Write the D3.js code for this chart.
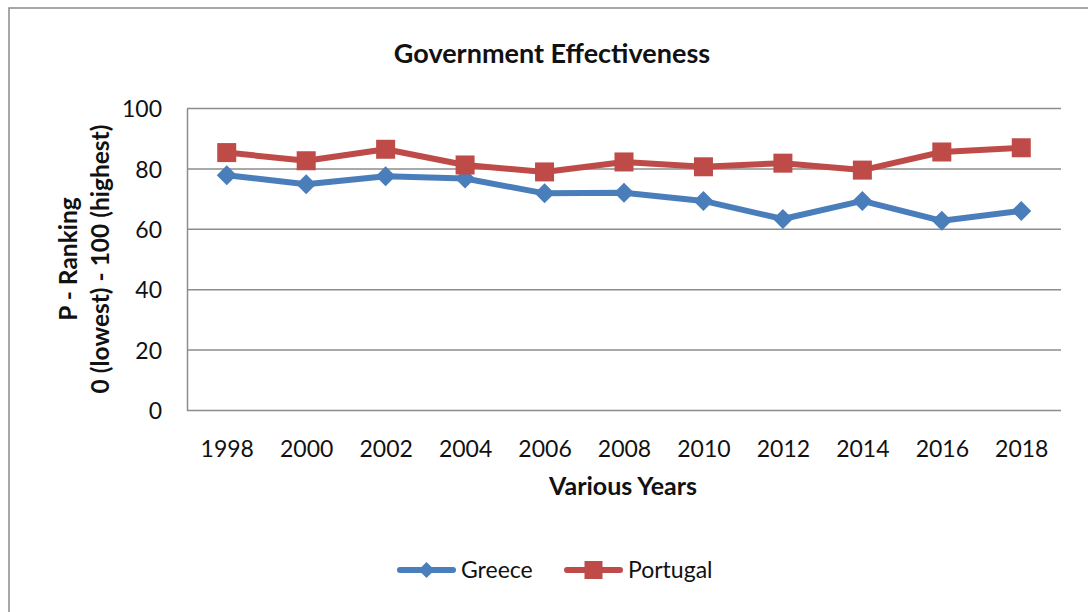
<!DOCTYPE html>
<html>
<head>
<meta charset="utf-8">
<script src="https://cdn.jsdelivr.net/npm/d3@7"></script>
<style>
  html, body { margin: 0; padding: 0; background: #fff; }
  svg { display: block; }
  text { font-family: Lato, "Liberation Sans", sans-serif; fill: #111; }
</style>
</head>
<body>
<svg id="chart" width="1088" height="612"></svg>
<script>
// Government Effectiveness percentile rank, 1998-2018
const years = ["1998", "2000", "2002", "2004", "2006", "2008", "2010", "2012", "2014", "2016", "2018"];
const greece = [77.9, 74.9, 77.6, 76.8, 71.9, 72.1, 69.4, 63.4, 69.4, 62.8, 66.1];
const portugal = [85.4, 82.7, 86.5, 81.3, 79.0, 82.3, 80.7, 81.9, 79.6, 85.6, 87.0];
const yTicks = [0, 20, 40, 60, 80, 100];
const seriesNames = ["Greece", "Portugal"];

const svg = d3.select("#chart");
const W = 1088, H = 612;
const plot = { left: 187, top: 108.5, right: 1061, bottom: 410.5 };

// outer chart frame (extends past the right and bottom edges)
svg.append("rect")
  .attr("x", 9).attr("y", 8)
  .attr("width", W + 20).attr("height", H + 20)
  .attr("fill", "none").attr("stroke", "#8a8a8a").attr("stroke-width", 1.5);

const x = d3.scalePoint().domain(years).range([plot.left, plot.right]).padding(0.5);
const y = d3.scaleLinear().domain([0, 100]).range([plot.bottom, plot.top]);

// horizontal gridlines
svg.append("g")
  .selectAll("line")
  .data(yTicks)
  .join("line")
  .attr("x1", plot.left).attr("x2", plot.right)
  .attr("y1", d => y(d)).attr("y2", d => y(d))
  .attr("stroke", "#8c8c8c").attr("stroke-width", 1.5);

// y axis
const yAxis = svg.append("g")
  .attr("transform", `translate(${plot.left},0)`)
  .call(d3.axisLeft(y).tickValues(yTicks).tickSize(0).tickPadding(25));
yAxis.select(".domain").attr("stroke", "#8c8c8c").attr("stroke-width", 1.5);
yAxis.selectAll("text").style("font-size", "23px").attr("dy", "0.36em").attr("fill", "#111");

// x axis (labels only)
const xAxis = svg.append("g")
  .attr("transform", `translate(0,${plot.bottom})`)
  .call(d3.axisBottom(x).tickSize(0));
xAxis.select(".domain").remove();
xAxis.selectAll("text")
  .style("font-size", "23px").attr("fill", "#111")
  .attr("y", 46).attr("dy", 0);

// titles
svg.append("text")
  .attr("x", 552).attr("y", 63)
  .attr("text-anchor", "middle")
  .style("font-size", "27px").style("font-weight", "bold")
  .text("Government Effectiveness");

svg.append("text")
  .attr("x", 623).attr("y", 495)
  .attr("text-anchor", "middle")
  .style("font-size", "25px").style("font-weight", "bold")
  .text("Various Years");

const yTitle = svg.append("text")
  .attr("transform", "translate(77,259) rotate(-90)")
  .attr("text-anchor", "middle")
  .style("font-size", "24.5px").style("font-weight", "bold");
yTitle.append("tspan").attr("x", 0).attr("dy", 0).text("P - Ranking");
yTitle.append("tspan").attr("x", 0).attr("dy", 32).text("0 (lowest) - 100 (highest)");

const colors = { Greece: "#4a7ebb", Portugal: "#be4b48" };
const line = d3.line().x((d, i) => x(years[i])).y(d => y(d));

function diamond(sel, cx, cy, r, color) {
  sel.append("path")
    .attr("d", `M${cx},${cy - r}L${cx + r},${cy}L${cx},${cy + r}L${cx - r},${cy}Z`)
    .attr("fill", color);
}
function square(sel, cx, cy, r, color) {
  sel.append("rect")
    .attr("x", cx - r).attr("y", cy - r)
    .attr("width", 2 * r).attr("height", 2 * r)
    .attr("fill", color);
}

const seriesData = [["Greece", greece, diamond, 10], ["Portugal", portugal, square, 9.5]];
const gSeries = svg.append("g");
seriesData.forEach(([name, vals, marker, r]) => {
  gSeries.append("path")
    .datum(vals)
    .attr("d", line)
    .attr("fill", "none")
    .attr("stroke", colors[name])
    .attr("stroke-width", 6)
    .attr("stroke-linejoin", "round")
    .attr("stroke-linecap", "round");
  const gm = gSeries.append("g");
  vals.forEach((v, i) => marker(gm, x(years[i]), y(v), r, colors[name]));
});

// legend
const legend = svg.append("g");
const legendItems = [
  { name: seriesNames[0], x0: 398, marker: diamond, r: 8 },
  { name: seriesNames[1], x0: 565, marker: square, r: 9 }
];
legendItems.forEach(it => {
  const cy = 570;
  legend.append("line")
    .attr("x1", it.x0 + 2).attr("x2", it.x0 + 55)
    .attr("y1", cy).attr("y2", cy)
    .attr("stroke", colors[it.name]).attr("stroke-width", 6)
    .attr("stroke-linecap", "round");
  it.marker(legend, it.x0 + 28.5, cy, it.r, colors[it.name]);
  legend.append("text")
    .attr("x", it.x0 + 63).attr("y", 577.5)
    .style("font-size", "23px")
    .text(it.name);
});
</script>
</body>
</html>
